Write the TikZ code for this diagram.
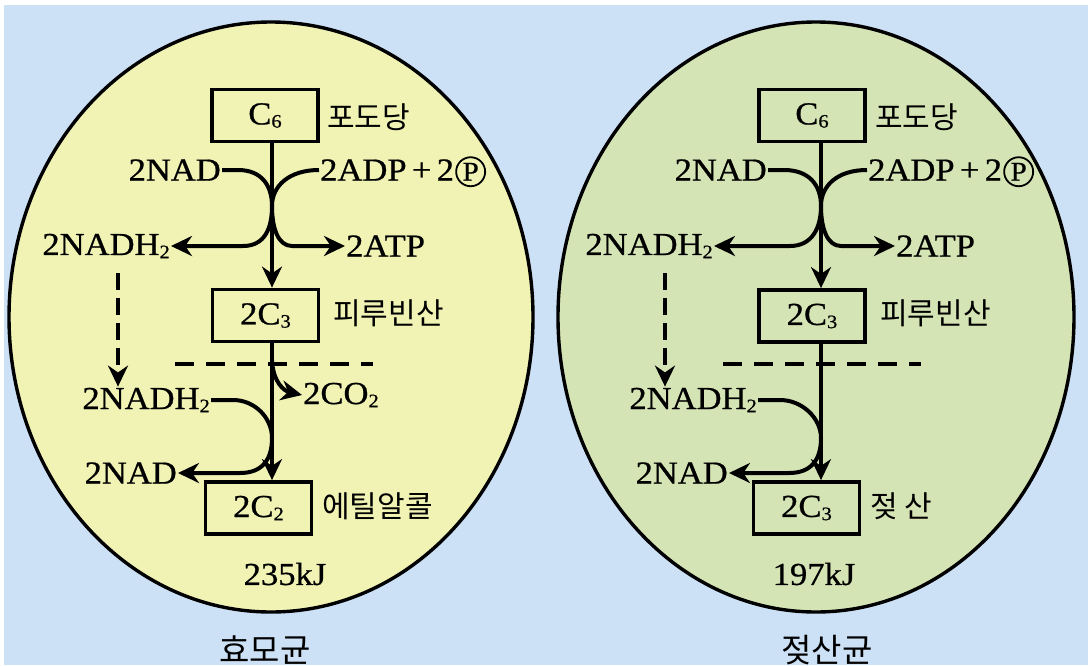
\documentclass[tikz,border=0pt]{standalone}
\usepackage{fontspec}
\setmainfont{Liberation Serif}[FakeStretch=1.08, FakeBold=0.7]
\newfontfamily\krfont{Noto Sans CJK KR}
\usetikzlibrary{arrows.meta, positioning}

\definecolor{bgblue}{RGB}{204,225,246}
\definecolor{yeastfill}{RGB}{240,243,180}
\definecolor{lacticfill}{RGB}{213,228,180}

% small lowered index, as in C6 and NADH2
\newcommand{\idx}[1]{\raisebox{-0.1em}{\fontsize{19}{19}\selectfont #1}}

\tikzset{
  cell/.style={draw=black, line width=3.4pt},
  box/.style={draw, line width=3.8pt, minimum width=106pt, minimum height=52pt, inner sep=0pt, font=\fontsize{32}{34}\selectfont},
  lbl/.style={inner sep=1pt, font=\fontsize{32}{34}\selectfont},
  krlbl/.style={inner sep=1pt, font=\krfont\fontsize{30}{32}\selectfont},
  pcirc/.style={draw, circle, line width=1.8pt, minimum size=29pt, inner sep=0pt, font=\fontsize{27}{27}\selectfont},
  flow/.style={line width=4pt},
  spine/.style={line width=3.4pt},
  dashflow/.style={line width=3.4pt, dash pattern=on 17pt off 8pt},
  dashline/.style={line width=3.4pt, dash pattern=on 19pt off 12pt},
}

\begin{document}
\begin{tikzpicture}[x=1pt, y=-1pt, >={Stealth[length=21pt, width=20pt]}]
    % page and background
    \useasboundingbox (0,0) rectangle (1088,665);
    \fill[white] (0,0) rectangle (1088,665);
    \fill[bgblue] (4,5) rectangle (1088,665);

    % the two cells
    \draw[cell, fill=yeastfill] (271,317) ellipse (262 and 295);
    \draw[cell, fill=lacticfill] (816,317) ellipse (258 and 295);

    %% ---------- yeast (left) ----------
    \coordinate (lspine) at (272,0);
    \coordinate (ldash) at (118,0);

    \node[box] (lc6) at (265,115.5) {C\idx{6}};
    \node[krlbl, anchor=west] (lglu) at (326,117) {포도당};
    \node[lbl, anchor=east] (lnad1) at (222,170) {2NAD};
    \node[lbl, anchor=west] (ladp) at (319,170) {2ADP\,+\,2};
    \node[pcirc, anchor=base west] (lpc) at (ladp.base east) {P};
    \node[lbl, anchor=east] (lnadh1) at (171,246) {2NADH\idx{2}};
    \node[lbl, anchor=west] (latp) at (345,246) {2ATP};

    \node[box] (lc3) at (265.5,315.5) {2C\idx{3}};
    \node[krlbl, anchor=west] (lpyr) at (332,313) {피루빈산};
    \node[lbl, anchor=east] (lnadh2) at (211,400) {2NADH\idx{2}};
    \node[lbl, anchor=east] (lnad2) at (178,473) {2NAD};
    \node[lbl, anchor=west] (lco2) at (302,395) {2CO\idx{2}};
    \coordinate (lco2src) at (272,360);

    \node[box] (lc2) at (258.5,508) {2C\idx{2}};
    \node[krlbl, anchor=west] (leth) at (321,506) {에틸알콜};
    \node[lbl] (lkj) at (285,574) {235kJ};
    \node[krlbl, font=\krfont\fontsize{33}{35}\selectfont] (lname) at (265,650) {효모균};

    % main chain
    \draw[spine, ->] (lc6.south -| lspine) -- (lc3.north -| lspine);
    \draw[spine, ->] (lc3.south -| lspine) -- (lc2.north -| lspine);

    % glycolysis side arrows
    \draw[flow, ->] (lnad1.east) -- ++(16,0) .. controls +(24,0) and +(0,-20) .. (272,206)
        .. controls +(0,22) and +(22,0) .. (243,246) -- (lnadh1.east);
    \draw[flow, ->] (ladp.west) .. controls +(-30,0) and +(0,-20) .. (272,206)
        .. controls +(0,22) and +(-14,0) .. (292,246) -- (latp.west);

    % NADH carried down
    \draw[dashflow, ->, shorten <=14pt] (lnadh1.south -| ldash) -- (lnadh2.north -| ldash);
    \draw[dashline] (175,364) -- (373,364);

    % decarboxylation and reduction
    \draw[flow, ->] (lco2src) .. controls (273,382) and (284,391) .. (lco2.west);
    \draw[flow, ->] (lnadh2.east) -- ++(22,0) .. controls +(22,0) and +(0,-20) .. (272,438)
        .. controls +(0,22) and +(22,0) .. (240,473) -- (lnad2.east);

    %% ---------- lactic (right) ----------
    \coordinate (rspine) at (821,0);
    \coordinate (rdash) at (665,0);

    \node[box] (rc6) at (812,115.5) {C\idx{6}};
    \node[krlbl, anchor=west] (rglu) at (874,117) {포도당};
    \node[lbl, anchor=east] (rnad1) at (768,170) {2NAD};
    \node[lbl, anchor=west] (radp) at (867,170) {2ADP\,+\,2};
    \node[pcirc, anchor=base west] (rpc) at (radp.base east) {P};
    \node[lbl, anchor=east] (rnadh1) at (714,246) {2NADH\idx{2}};
    \node[lbl, anchor=west] (ratp) at (895,246) {2ATP};

    \node[box] (rc3) at (812,316) {2C\idx{3}};
    \node[krlbl, anchor=west] (rpyr) at (879,313) {피루빈산};
    \node[lbl, anchor=east] (rnadh2) at (758,400) {2NADH\idx{2}};
    \node[lbl, anchor=east] (rnad2) at (729,473) {2NAD};

    \node[box] (rc3b) at (806.5,508) {2C\idx{3}};
    \node[krlbl, anchor=west] (rlac) at (869,506) {젖 산};
    \node[lbl] (rkj) at (814,574) {197kJ};
    \node[krlbl, font=\krfont\fontsize{33}{35}\selectfont] (rname) at (827,650) {젖산균};

    % main chain
    \draw[spine, ->] (rc6.south -| rspine) -- (rc3.north -| rspine);
    \draw[spine, ->] (rc3.south -| rspine) -- (rc3b.north -| rspine);

    % glycolysis side arrows
    \draw[flow, ->] (rnad1.east) -- ++(16,0) .. controls +(26,0) and +(0,-20) .. (821,206)
        .. controls +(0,22) and +(22,0) .. (790,246) -- (rnadh1.east);
    \draw[flow, ->] (radp.west) .. controls +(-30,0) and +(0,-20) .. (821,206)
        .. controls +(0,22) and +(-14,0) .. (841,246) -- (ratp.west);

    % NADH carried down
    \draw[dashflow, ->, shorten <=14pt] (rnadh1.south -| rdash) -- (rnadh2.north -| rdash);
    \draw[dashline] (723,364) -- (921,364);

    % reduction
    \draw[flow, ->] (rnadh2.east) -- ++(22,0) .. controls +(22,0) and +(0,-20) .. (821,438)
        .. controls +(0,22) and +(22,0) .. (789,473) -- (rnad2.east);

\end{tikzpicture}
\end{document}
